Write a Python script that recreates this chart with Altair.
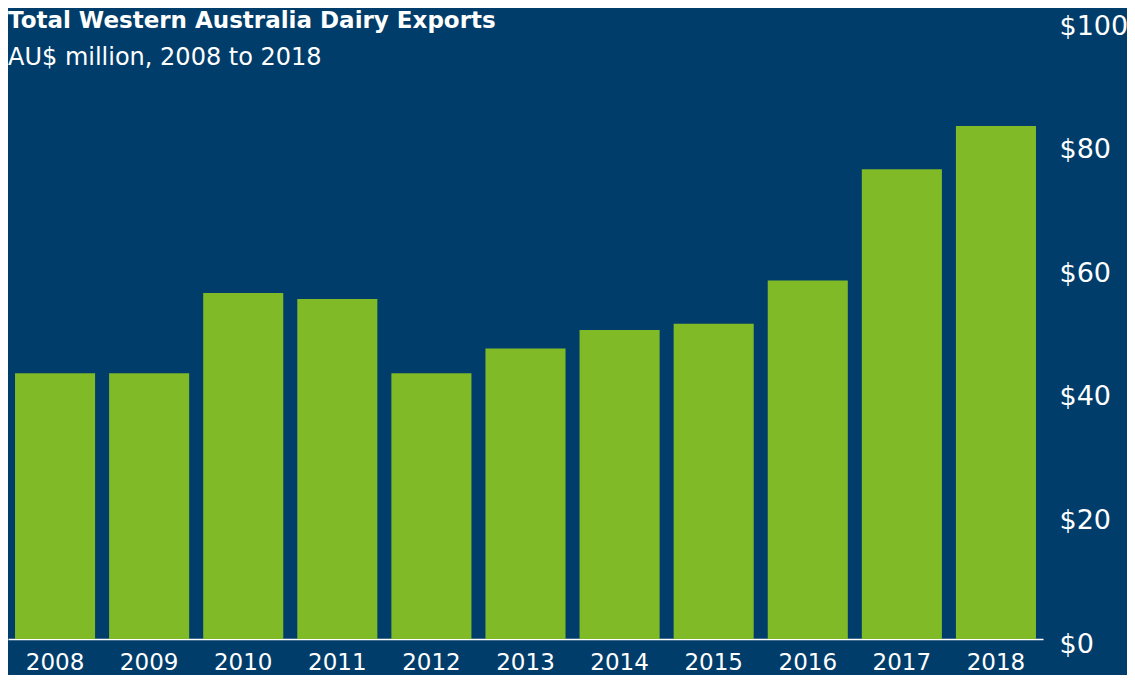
import altair as alt
import pandas as pd

years = ["2008", "2009", "2010", "2011", "2012", "2013", "2014", "2015", "2016", "2017", "2018"]
exports = [43, 43, 56, 55, 43, 47, 50, 51, 58, 76, 83]
y_ticks = [0, 20, 40, 60, 80, 100]
title_text = "Total Western Australia Dairy Exports"
subtitle_text = "AU$ million, 2008 to 2018"

BG = "#013D6A"
GREEN = "#80BA27"
FONT = "DejaVu Sans"

df = pd.DataFrame({"year": years, "value": exports})

bars = alt.Chart(df).mark_bar(color=GREEN).encode(
    x=alt.X("year:N", sort=years,
            scale=alt.Scale(paddingInner=0.149, paddingOuter=0.0745),
            axis=alt.Axis(title=None, labelAngle=0, labelColor="white", labelFont=FONT,
                          labelFontSize=23, labelBaseline="alphabetic", labelPadding=30,
                          ticks=False, tickSize=0, domain=True, domainColor="white",
                          domainWidth=1.5, grid=False)),
    y=alt.Y("value:Q", scale=alt.Scale(domain=[0, 100], nice=False),
            axis=alt.Axis(title=None, orient="right", values=y_ticks,
                          labelExpr="'$' + datum.value", labelColor="white",
                          labelFont=FONT, labelFontSize=27, labelPadding=16,
                          labelBaseline="middle", labelOffset=5, labelAlign="left",
                          ticks=False, tickSize=0, domain=False, grid=False)),
)

title = alt.Chart(alt.Data(values=[{}])).mark_text(
    align="left", baseline="alphabetic", font=FONT, fontSize=23, fontWeight="bold",
    color="white"
).encode(x=alt.value(0), y=alt.value(7), text=alt.value(title_text))

subtitle = alt.Chart(alt.Data(values=[{}])).mark_text(
    align="left", baseline="alphabetic", font=FONT, fontSize=24, color="white"
).encode(x=alt.value(0), y=alt.value(44), text=alt.value(subtitle_text))

chart = alt.layer(bars, title, subtitle).properties(
    width=1035, height=618, background=BG,
    autosize=alt.AutoSizeParams(type="none"),
    padding={"left": 0, "top": 13, "right": 84, "bottom": 36},
).configure_view(stroke=None)

chart.save("out.html", embed_options={"renderer": "svg", "actions": False})
